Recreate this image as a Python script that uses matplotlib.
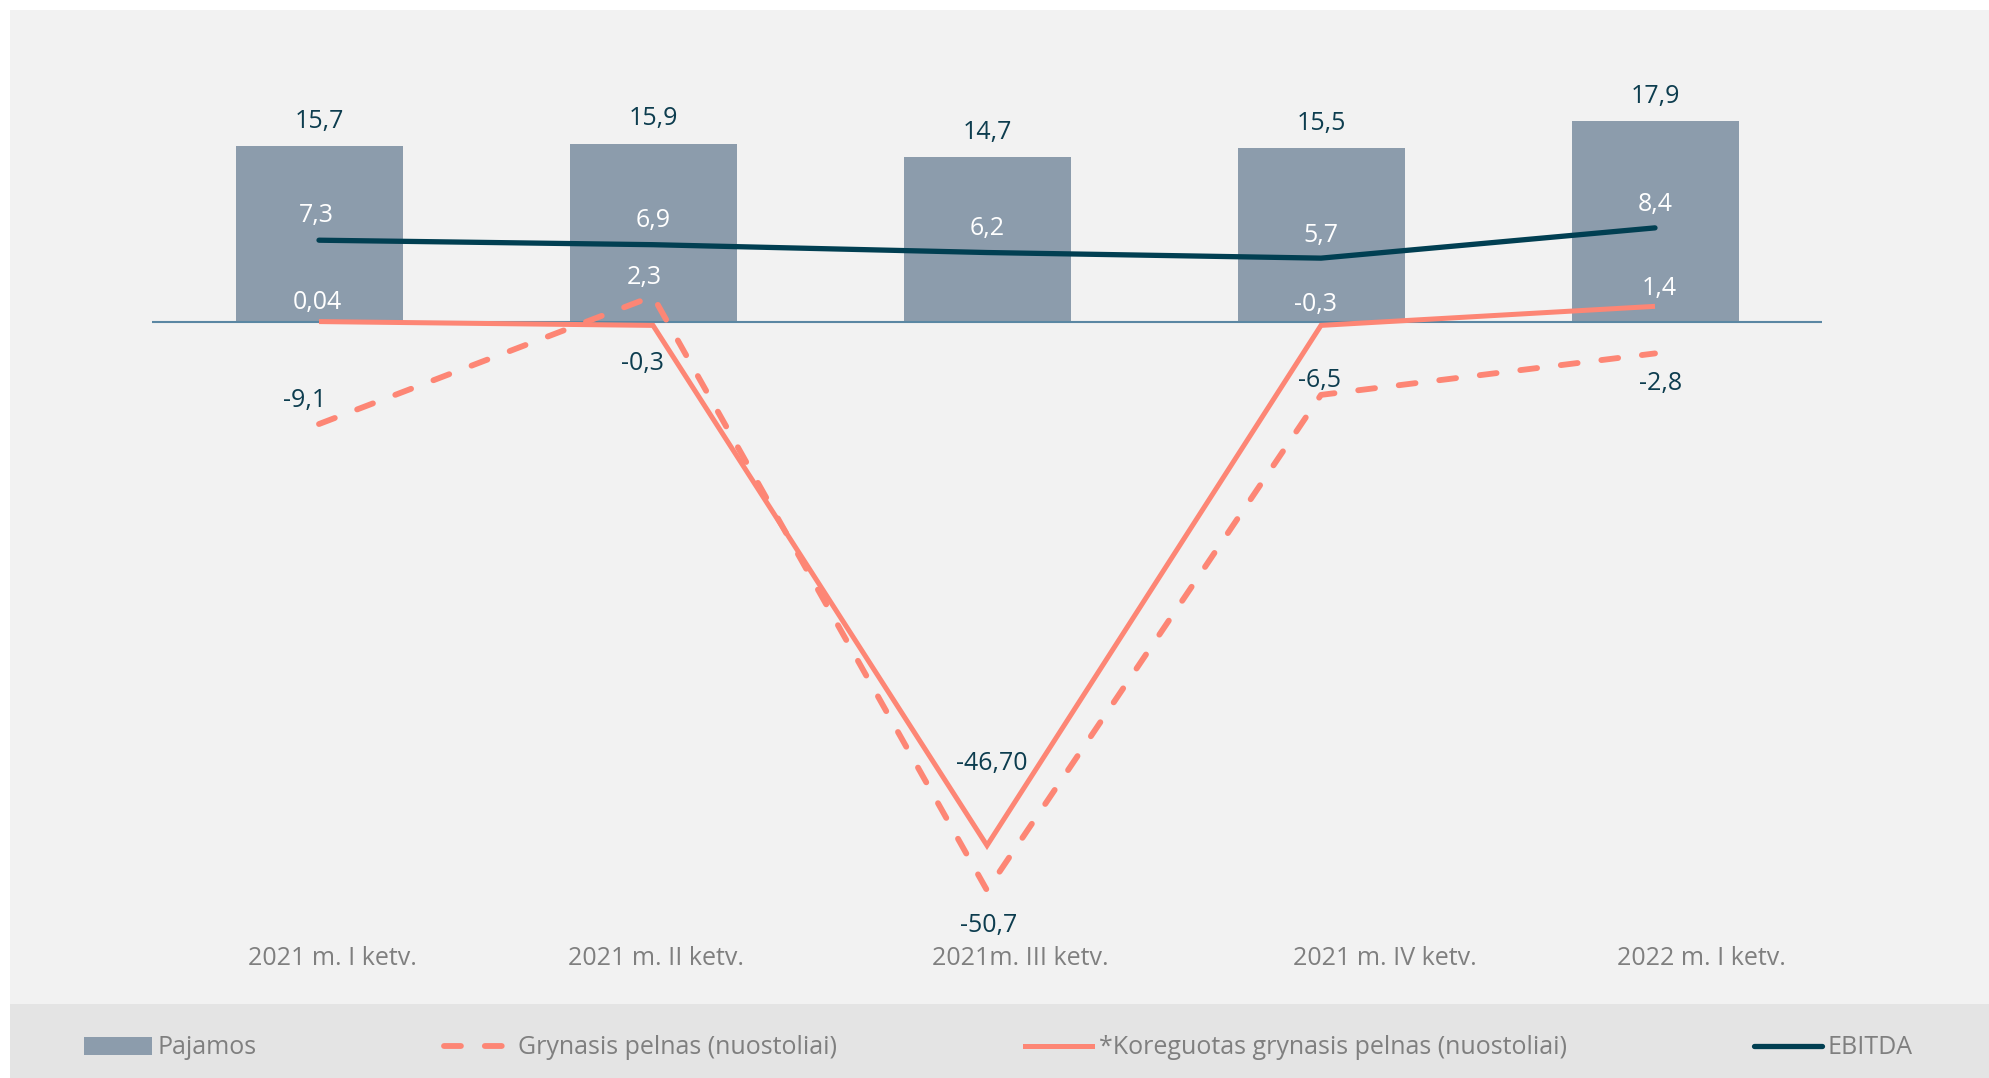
import matplotlib
matplotlib.use("Agg")
import matplotlib.pyplot as plt
from matplotlib.patches import Rectangle
from matplotlib.lines import Line2D

plt.rcParams['font.family'] = ['Open Sans', 'DejaVu Sans']

# ---------------- data ----------------
categories = ["2021 m. I ketv.", "2021 m. II ketv.", "2021m. III ketv.",
              "2021 m. IV ketv.", "2022 m. I ketv."]
pajamos = [15.7, 15.9, 14.7, 15.5, 17.9]
grynasis = [-9.1, 2.3, -50.7, -6.5, -2.8]
koreguotas = [0.04, -0.3, -46.70, -0.3, 1.4]
ebitda = [7.3, 6.9, 6.2, 5.7, 8.4]

pajamos_lbl = ["15,7", "15,9", "14,7", "15,5", "17,9"]
grynasis_lbl = ["-9,1", "2,3", "-50,7", "-6,5", "-2,8"]
koreguotas_lbl = ["0,04", "-0,3", "-46,70", "-0,3", "1,4"]
ebitda_lbl = ["7,3", "6,9", "6,2", "5,7", "8,4"]

legend_names = ["Pajamos", "Grynasis pelnas (nuostoliai)",
                "*Koreguotas grynasis pelnas (nuostoliai)", "EBITDA"]

# ---------------- style ----------------
BAR = "#8c9cac"
ORANGE = "#fd8675"
TEAL = "#013f52"
DARKTXT = "#0d3d4f"
GREYTXT = "#7f7f7f"
BASE = "#5b87a3"
FS = 18

W, H = 1989, 1078
fig = plt.figure(figsize=(W / 100, H / 100), dpi=100, facecolor="white")

# background panels
fig.patches.append(Rectangle((10 / W, 1 - 1004 / H), 1 - 10 / W, (1004 - 10) / H,
                             transform=fig.transFigure, facecolor="#f2f2f2",
                             edgecolor="none", zorder=-10))
fig.patches.append(Rectangle((10 / W, 0), 1 - 10 / W, (1078 - 1004) / H,
                             transform=fig.transFigure, facecolor="#e4e4e4",
                             edgecolor="none", zorder=-10))

ax = fig.add_axes([152 / W, 1 - 940 / H, 1670 / W, 900 / H])
ax.set_facecolor("none")
x = list(range(len(categories)))
ax.set_xlim(-0.5, 4.5)
ax.set_ylim(-55.13, 25.16)

ax.bar(x, pajamos, width=0.5, color=BAR, zorder=2)
ax.axhline(0, color=BASE, lw=1.5, zorder=3)

lw = 3.8
ax.plot(x, ebitda, color=TEAL, lw=lw, solid_capstyle="round",
        solid_joinstyle="round", zorder=4)
ax.plot(x, koreguotas, color=ORANGE, lw=3.6, solid_capstyle="butt",
        solid_joinstyle="miter", zorder=5)
ax.plot(x, grynasis, color=ORANGE, lw=4.2, dashes=(2.9, 4.1),
        dash_capstyle="round", zorder=6)

def annot(vals, labels, offsets, colors):
    for xi, v, t, (dx, dy), c in zip(x, vals, labels, offsets, colors):
        ax.annotate(t, (xi, v), xytext=(dx, dy - 3), textcoords="offset pixels",
                    ha="center", va="center", fontsize=FS, color=c, zorder=10)

annot(pajamos, pajamos_lbl, [(0, 28)] * 5, [DARKTXT] * 5)
annot(ebitda, ebitda_lbl, [(-3, 28), (0, 27), (0, 27), (0, 26), (0, 26)], ["white"] * 5)
annot(koreguotas, koreguotas_lbl,
      [(-2, 22), (-11, -35), (5, 85), (-6, 24), (4, 21)],
      ["white", DARKTXT, DARKTXT, "white", "white"])
annot(grynasis, grynasis_lbl,
      [(-14, 27), (-9, 22), (2, -32), (-2, 17), (6, -27)],
      [DARKTXT, "white", DARKTXT, DARKTXT, DARKTXT])

# category labels (slightly shifted like in the source)
label_x = [0.04, 1.01, 2.10, 3.19, 4.14]
ax.set_xticks(label_x)
ax.set_xticklabels(categories, fontsize=FS, color=GREYTXT)
ax.set_yticks([])
for s in ax.spines.values():
    s.set_visible(False)
for t in ax.get_xticklabels():
    t.set_va("center")
ax.tick_params(axis="x", length=0, pad=13)

# legend
handles = [
    Rectangle((0, 0), 1, 1, facecolor=BAR, edgecolor="none"),
    Line2D([], [], color=ORANGE, lw=4.2, dashes=(2.9, 4.1), dash_capstyle="round"),
    Line2D([], [], color=ORANGE, lw=3.6),
    Line2D([], [], color=TEAL, lw=lw, solid_capstyle="round"),
]
fig.legend(handles, legend_names, loc="center left",
           bbox_to_anchor=(84 / W, 1 - 1048 / H, (1913 - 84) / W, 0.0),
           mode="expand", ncol=4, frameon=False, fontsize=FS,
           labelcolor=GREYTXT, handlelength=2.7, handletextpad=0.25,
           borderaxespad=0, borderpad=0, handleheight=0.7)

fig.savefig("out.png", dpi=100, facecolor="white")
